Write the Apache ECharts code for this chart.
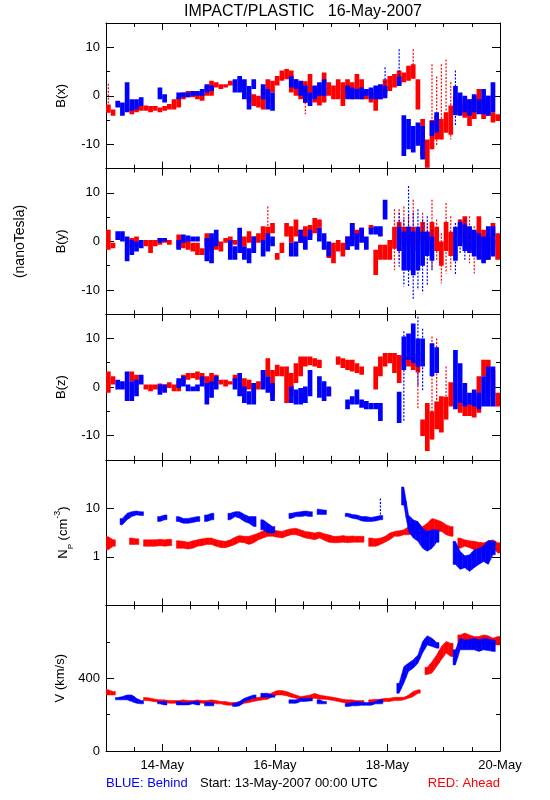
<!DOCTYPE html>
<html><head><meta charset="utf-8">
<script src="https://cdn.jsdelivr.net/npm/echarts@6/dist/echarts.min.js"></script>
<style>html,body{margin:0;padding:0;background:#fff}#c{width:550px;height:800px}</style>
</head><body><div id="c"></div>
<script>
// Each entry = one 2-hour bin starting 13-May-2007 00:00 UTC: [low, high] of the dense data,
// optionally followed by [sparseLow, sparseHigh] for scattered points; null = no data.
const hoursPerBin = 2;
const xMaxHours = 168;
const dateTickHours = [24, 72, 120, 168];
const dateTickLabels = ['14-May', '16-May', '18-May', '20-May'];
const bTickValues = [-10, 0, 10];
const npTickValues = [1, 10];
const vTickValues = [0, 400];
const vMajorTicks = [0, 400, 800];

const bxAhead = [
 [-3.5,-1.8,-3.5,2.5],[-4.1,-2.8],null,null,null,[-3.8,-2.4],[-3.4,-2.1],[-3.1,-2.1],[-3.1,-2.0],[-3.4,-2.1],[-3.1,-2.1],[-3.4,-2.4],
 [-3.1,-2.1],[-2.8,-1.7],[-2.8,-0.7],[-2.4,-0.3],[-0.7,0.7],[-0.3,1.0],[-0.3,1.0],[-0.7,0.7],[-1.0,0.7],[0,2.0],[0,3.1],[1.7,2.8],
 [1.4,2.4],[1.7,2.4],[2.1,3.1],[2.1,3.1],null,null,[-1.4,0.7],[-2.1,0.3],[-2.4,0],[-2.8,1.4],[-0.7,3.4],[0.7,3.1],
 [2.1,4.1],[3.1,5.2],[3.4,5.5],[0.7,5.2],[0,3.4],[-0.7,2.8],[-1.5,3,-3.8,3],[0,4.5],[-1.4,2],[-2,2],[-1.4,4.8],[0,2.8],
 [-0.7,2.1],[-0.7,3.4],[-2.1,2.8],[-0.3,3.4],[-0.7,2.8],[0,4.5],[-0.7,3.4],[-0.7,1.4],[-1.4,1.4],[-3.1,0.7],[-0.7,2.1],[0.7,3.4],
 [1,4.1],[1.7,4.5],[2.4,5.2],[2.8,4.8],[3.1,6.2],[3.5,6.5,3.5,9.6],[-2.8,3.4],[-12.4,-4.8],[-14.8,-9],[-11,-5,-11,6.5],[-9,-4,-10.3,4],[-9,-4.8,-9,6.5],
 [-7.6,-3.4,-7.6,7.5],[-8,-2,-9,2.8],[-3.4,0],[-3.8,-0.7],[-4.5,-1.4],[-6.2,-0.7],[-4.8,0],[-3.4,1.4],[-4.8,-0.7],[-4.1,0],[-5.5,-3.4],[-5.2,-3.8]
];
const bxBehind = [
 null,null,[-2.4,-1],[-4.1,-1.4],[-3.4,2.8],[-3.1,-0.7],[-2.8,-0.7],[-2.1,-0.3],null,null,null,[-0.7,1.7],
 [-1.4,0.3],null,null,[-0.7,0.7],[-0.3,0.7],[-0.3,0.7],[0,1.0],[0,1.0],[0,1.4],[0.7,2.4],[1.0,2.1],null,
 null,null,null,[0.7,3.4],[0.7,4.1],[-0.7,3.4],[-2.8,2],[1.4,3.4],null,[-0.7,2.4],[-2.8,1.4],[-3.1,0.7],
 null,null,null,[1.7,4.1],[1.4,3.4],[0,3.1],[-1.4,2.1],[-2.1,0.7],[-0.7,2.1],[0,2.8],[0,3.4],null,
 null,null,null,[-0.7,2.1],[-0.7,1.7],[-0.7,1.4],[-0.7,1.7],[0,1.4],[-0.7,1.7],[-0.7,2.1],[-0.7,2.4],[-0.5,2,-0.5,5.9],
 null,null,[2,4,2,9.6],[-12.4,-4],[-11,-4.8],[-11.7,-6.2],[-10.3,-5.5],[-13.1,-6.2],null,[-8.3,-5.2],[-7.6,-3.4],null,
 null,null,[-4,2,-6.2,5.2],[-4.1,0.7],[-3.4,0],[-4.1,-0.7],[-3.4,0.3],[-3.8,-0.7],[-3.8,1.4],[-4.1,0],[-3.4,2.8],null
];
const byAhead = [
 [-1.7,2.4],[-1.4,-0.3],null,null,null,[-1.4,0.7],[-1,1],null,[-1,0.3],[-2.4,0.3],[-1,0.3],[-0.7,0.7],
 [-0.3,0.7],[-0.7,0.3],null,[-1.4,1.4],[-1.4,0.7],[-1.7,0.3],[-2.1,-0.3],[-2.8,-0.3],[-2.8,-1.4],[-1,1.7],[-2.1,0.7],[-1.7,0.3],
 [-2.1,0],[-0.3,0.7],[-0.3,1],[-0.7,0.3],null,[-1,1],[-0.3,2.1],[-2.4,1],[-0.3,1.7],[0.3,3.1],[1,3,1,7.2],[1.7,3.8],
 [-3.8,-2.4],[-2.4,-0.3],[1,3.8],[-0.3,3.1],[1,4.5],[-0.3,2.4],[0.3,3.1],[1,3.4],[1.7,4.8],[2.8,4.5],null,[-3.4,-0.7],
 [-4.5,-0.3],[-2.1,0.3],[-3.1,-0.3],[-1.7,1],[0.3,3.8],[-0.3,2.4],[1,2.8],null,[2.4,3.4],[-6.9,-1.7],[-3.8,-0.7],[-3.8,-0.7],
 [-3.8,0.3],[-1.5,3,-5.9,6.6],[-1,4,-3.8,6.6],[-2,3,-5.9,7.2],[-1,3,-2.4,5.2],[-2,3,-5.9,8.6],[-2,2,-3.8,3.1],[0,4,-1,5.9],[-2,2,-3.1,3.1],[-2,4,-5.9,8.6],[-2,3,-3.8,4.5],[-5,0,-8.6,1.7],
 [-2,4,-6.6,7.9],[-3,2,-5.9,5.2],null,[-0.3,4.5],[-0.3,5.2],[-2,3,-4.5,5.2],[-3,2,-6.6,3.1],[-1,5.2],[-3.8,2.4],[-3.8,1],[-1.7,3.8],[-3.8,1.7]
];
const byBehind = [
 null,null,[0.3,2.1],[0,2.1],[-4.1,1],[-2.8,0.3],[-2.1,0],[-1.4,0.3],null,null,null,[-0.3,0.7],
 [0,0.7],null,null,[-1.7,0.3],[-0.3,1.4],[0,1.2],[0,1],[0,1],null,[-4.1,0.7],[-4.5,1.7],[-1,2.4],
 null,null,[-3.8,0.3],[-3.8,-1],[-2.4,2.8],[-3.8,-1],[-4.5,-1.4],[-2.4,1],null,[-3.1,0.3],[-2.1,1.7],[-1,1],
 null,null,null,[-3.1,-0.3],[-3.1,0],[-0.3,2.4],[-1.7,1],[0.3,2.4],null,[0,2.8],[-1.7,1.7],[-3.1,0],
 null,null,null,[-1.7,1],[-1,3.8],[-1.7,1.7],[-0.3,2.8],[-1.7,1],[1.4,2.8],[1.4,3.1],[1,3.1],[4.5,8.6],
 null,null,[-2,3,-5.2,5.9],[-6,2,-9.3,4.5],[-6,3,-9.3,11.4],[-7,2,-12,5.9],[-6,3,-10,6.6],[-5,2,-10.7,4.5],[-3,2,-9,5.2],[-4,1,-6,2.4],null,null,
 null,null,[-4,3,-6.9,3.8],[-1,4,-2.4,4.5],[-2,3.5,-3.8,4.5],[-2.4,3.1],[-3.1,2.4],[-3.8,1.7],[-4.5,1],[-3.8,3.1],[-3.1,3.1],null
];
const bzAhead = [
 [-1.2,3.2],[0.5,2.2],null,null,null,[1.2,3.2],[0.8,2.5],null,[-0.5,0.5],[-0.9,0.5],[-0.5,0.5],[-0.5,0.7],
 [-0.9,0.5],[-0.2,1],[-0.9,0.5],[-0.9,1.2],[0.8,2.5],[1.5,2.9],[1.8,2.9],[1.5,3.2],[1.2,2.9],[-0.5,2.2],[0.5,2.9],[1.5,2.5],
 [0.5,1.5],[0.1,1.5],[0.5,1.2],[1.2,2.5],null,[-0.5,1.8],[-0.5,1.5],[-1.2,0.8],[-0.5,1.2],[0.1,3.5],[2.2,5.9],[-1.9,3.5],
 [2.2,4.6],[2.2,4.2],[-3.3,4.2],[-1.9,2.9],[0.8,4.9],[2.2,6.3],[4.2,6.3],[4.5,6.3],[4.2,5.9],[3.9,5.6],null,[-1.9,-0.2],
 null,[4.6,6.3],[3.9,5.9],[3.5,5.6],[3.2,5.6],[2.9,4.9],[2.5,4.2],null,null,[-0.5,4.2],[2.2,6.3],[4.2,7],
 [4.9,7],[2.9,7],[0.8,6.6],[4.2,6.3],[4.2,6.3],[3.5,5.6],[3,7,-4.6,9],[-10.1,-6.7],[-13.2,-3.3],[-10.8,-5,-10.8,10.4],[-8.7,-3,-8.7,10],[-9.4,-1.9],
 [-6.7,-2,-6.7,4.2],[-4,1],null,[-5.3,-0.5],[-6,-2.6],[-6,-3.3],[-6.3,-1.9],[-5.3,2.2],[2.2,5.6],[1.5,5.6],[-1.9,3.5],[-4,-1.2]
];
const bzBehind = [
 null,null,[-0.5,1.5],[-0.5,1.2],[-2.9,3.2],[-2.9,1.2],[-1.9,1.5],[0.5,2.5],null,null,null,[-1.6,0.5],
 [-1.2,0.5],null,null,[-0.2,1.8],[0.1,2.2],[-0.9,0.5],[-0.9,0.1],[-0.9,0.5],[0.1,2.2],[-3.6,0.8],[-2.2,1.2],[-0.5,2.2],
 null,null,null,[-0.5,1.8],[-1.9,2.9],[-3.3,0.1],[-3.6,-0.9],[-3.6,0.8],null,[-0.5,3.5],[-1.2,2.2],[-2.9,0.8],
 null,null,null,[-3.3,0.1],[-3.6,-0.5],[-3.6,-0.2],[-3.3,0.1],[-1.9,3.5],null,[-2.2,2.2],[-2.9,1.2],[-1.9,0.1],
 null,null,null,[-4.6,-2.6],[-3.6,-1.9],[-3.6,-0.5],[-4.3,-2.6],[-4.6,-2.9],[-4.6,-3.3],[-4.6,-3.3],[-7,-3.3],null,
 null,null,[-7.4,-1],[3.5,10.4,-7,11.5],[5.6,11],[4.9,13.1],[4.2,10,0,14.5],[4.2,10,-1,12],null,[2.2,9],[2.9,8.2],null,
 null,null,[-4.6,7.6],[-3.3,4.9],[-4,0.8],[-3.6,-1.2],[-4,-0.5],[-4.6,-1.2],[-4,2.2],[-4,4.2],[-4,4.2],null
];
const npAhead = [
 [1.4,2.6],[1.65,2.25],null,null,null,[1.8,2.45],[1.8,2.35],null,[1.65,2.25],[1.65,2.25],[1.65,2.25],[1.7,2.3],
 [1.65,2.25],[1.7,2.3],null,[1.5,2.15],[1.5,2.1],[1.45,2.0],[1.5,2.15],[1.65,2.25],[1.7,2.35],[1.8,2.45],[1.8,2.45],[1.65,2.25],
 [1.55,2.15],[1.55,2.1],[1.65,2.25],[1.8,2.55],[2.0,2.75],[1.95,2.65],[1.8,2.65],[1.95,2.85],[2.25,3.1],[2.45,3.45],[2.65,3.6],[2.65,3.6],
 [2.55,3.45],[2.45,3.35],[2.65,3.6],[2.85,3.8],[2.85,3.9],[2.65,3.6],[2.45,3.35],[2.35,3.25],[2.25,3.1],[2.45,3.25],[2.2,3.0],[2.0,2.85],
 [1.95,2.65],[1.95,2.65],[2.0,2.75],[1.95,2.65],[2.0,2.7],[2.0,2.65],[2.0,2.65],null,[1.65,2.45],[1.65,2.35],[1.8,2.45],[2.0,2.65],
 [2.25,3.1],[2.65,3.35],[2.65,3.45],[2.85,3.6],[2.85,4.2],[3.1,4.95],[2.85,4.6],[2.85,4.2],[2.85,4.95],[3.6,6.2],[3.35,5.8],[3.35,5.35],
 [2.85,4.6],[2.65,4.2],null,[1.5,2.45],[1.65,2.25],[1.55,2.15],[1.4,2.1],[1.4,2.0],[1.3,1.95],[1.4,2.1],[1.55,2.25],[1.2,1.95]
];
const npBehind = [
 null,null,null,[4.6,6.2],[5.8,7.9],[6.75,8.55],[7.3,8.8],[7.1,8.5],null,null,null,[5.35,6.75],
 [5.8,7.3],null,null,[5.35,6.75],[4.9,6.2],[4.9,6.2],[5.1,6.5],[5.35,6.75],null,[5.35,7.3],[5.8,7.9],null,
 null,null,[5.8,7.9],[6.75,8.55],[6.25,8.55],[5.35,7.5],[4.9,6.75],[4.2,6.75],null,[3.6,5.8],[3.1,4.95],[3.1,4.2],
 null,null,null,[6.2,7.9],[6.75,8.3],[6.75,8.55],[7.0,8.8],[6.75,8.55],null,[7.5,9.6],[7.5,9.2],null,
 null,null,null,[6.75,7.9],[6.25,7.5],[6.0,7.3],[5.5,6.75],[5.35,6.75],[5.35,6.5],[5.5,6.75],[5.8,7.1,5.8,16],null,
 null,null,null,[11.7,27.6],[3.35,7.3],[2.45,5.8],[2.1,5.35],[1.5,3.9],[1.3,3.35],[1.5,3.6],[2.0,3.6],null,
 null,null,[0.7,2.1],[0.55,1.3],[0.6,1.05],[0.5,1.1],[0.6,1.4],[0.7,1.5],[0.8,1.7],[0.7,2.2],[1.1,2.1],null
];
const vAhead = [
 [308,336],[308,327],null,null,null,[285,300],null,null,[277,294],[275,290],[270,285],[266,281],
 [266,281],[262,277],[262,277],[262,277],[266,281],[262,277],[262,277],[266,281],[262,277],[262,277],[266,281],[259,277],
 [259,272],[253,272],[251,266],[251,266],[253,272],[262,281],[266,284],[272,290],[277,295],[281,299],[284,308],[299,321],
 [308,332],[308,332],[303,327],[295,317],[290,308],[281,299],[281,303],[284,308],[290,317],[284,308],[284,303],[281,299],
 [277,295],[272,290],[266,284],[262,281],[262,281],[259,277],[262,277],null,[262,281],[266,284],[266,284],[272,290],
 [272,290],[277,295],[277,295],[281,295],[290,308],[299,327],[317,336],null,[420,460],[428,491],[464,528],[501,574],
 [538,602],[519,592],null,[583,638],[592,648],[583,638],[574,629],[583,629],[592,638],[583,633],[583,620],[583,629]
];
const vBehind = [
 null,null,[281,294],[281,299],[281,308],[272,308],[262,290],[259,277],null,null,null,[259,272],
 [253,272],null,null,[253,272],[253,266],[253,266],[259,272],[253,272],null,[248,266],[248,266],null,
 null,null,null,[244,262],[248,272],[272,290],[281,299],[290,308],null,[295,317],[295,317],[295,308],
 null,null,null,[262,281],[262,281],[272,290],[272,290],[275,290],null,[259,281],[259,272],null,
 null,null,null,[244,262],[248,266],[248,272],[251,266],[251,266],[251,266],[259,272],[259,284],null,
 null,null,[317,372],[372,464],[437,483],[455,501],[482,528],[538,602],[583,633],[574,620],[565,596],null,
 null,null,[473,556],[556,620],[556,610],[556,613],[556,620],[547,610],[556,620],[552,615],[547,610],null
];

const RED = '#ff0000', BLUE = '#0000ff', BLACK = '#000000';
const FONT = 'Liberation Sans';

const panels = [
  {label:'B(x)', ahead:bxAhead, behind:bxBehind, kind:'b', gap:38},
  {label:'B(y)', ahead:byAhead, behind:byBehind, kind:'b', gap:38},
  {label:'B(z)', ahead:bzAhead, behind:bzBehind, kind:'b', gap:38},
  {label:'{a|N}{s|P}{a| (cm}{u|-3}{a|)}', ahead:npAhead, behind:npBehind, kind:'log', gap:28},
  {label:'V (km/s)', ahead:vAhead, behind:vBehind, kind:'v', gap:36}
];

// data item: [t0, t1, lo, hi, sparseLo, sparseHi, prevLo, prevHi, nextLo, nextHi]
function toData(arr) {
  const out = [];
  arr.forEach((r, i) => {
    if (!r) return;
    const lo = r[0], hi = r[1];
    const slo = r.length > 2 ? r[2] : lo, shi = r.length > 2 ? r[3] : hi;
    const p = arr[i - 1], n = arr[i + 1];
    out.push([i * hoursPerBin, (i + 1) * hoursPerBin, lo, hi, slo, shi,
      p ? p[0] : lo, p ? p[1] : hi, n ? n[0] : lo, n ? n[1] : hi]);
  });
  return out;
}
function makeRenderer(smooth) {
  return function (params, api) {
    const t0 = api.value(0), t1 = api.value(1), tm = (t0 + t1) / 2;
    const lo = api.value(2), hi = api.value(3), slo = api.value(4), shi = api.value(5);
    const y = v => api.coord([tm, v])[1];
    const x0 = api.coord([t0, lo])[0], x1 = api.coord([t1, lo])[0], xm = (x0 + x1) / 2;
    const yHi = y(hi), yLo = y(lo);
    const color = api.visual('color');
    const children = [];
    if (smooth) {
      const yHiL = (yHi + y(api.value(7))) / 2, yLoL = (yLo + y(api.value(6))) / 2;
      const yHiR = (yHi + y(api.value(9))) / 2, yLoR = (yLo + y(api.value(8))) / 2;
      children.push({type:'polygon', shape:{points:[
        [x0, Math.min(yHiL, yLoL - 1)], [xm, Math.min(yHi, yLo - 1.5)], [x1, Math.min(yHiR, yLoR - 1)],
        [x1, yLoR], [xm, yLo], [x0, yLoL]]}, style:{fill:color, stroke:color, lineWidth:0.5}});
    } else {
      children.push({type:'rect', shape:{x:x0, y:yHi, width:x1 - x0, height:Math.max(1.5, yLo - yHi)}, style:{fill:color}});
    }
    if (slo < lo || shi > hi) {
      children.push({type:'line', shape:{x1:xm, y1:y(shi), x2:xm, y2:y(slo)},
        style:{stroke:color, lineWidth:1.2, lineDash:[2, 1.5]}});
    }
    return {type:'group', children};
  };
}

const grids = [], xAxis = [], yAxis = [], series = [];
const tickLine = {color:BLACK, width:1};
panels.forEach((p, g) => {
  grids.push({left:106, width:394, top:23 + g*145.6, height:145.6});
  const isLast = g === panels.length - 1;
  const xi = xAxis.length;
  ['bottom','top'].forEach(pos => {
    const xb = {gridIndex:g, type:'value', min:0, max:xMaxHours, position:pos, splitLine:{show:false}};
    xAxis.push(Object.assign({}, xb, {interval:12,
      axisLine:{show:true, onZero:false, lineStyle:tickLine},
      axisTick:{show:true, inside:true, length:4, lineStyle:tickLine}, axisLabel:{show:false}}));
    xAxis.push(Object.assign({}, xb, {
      axisLine:{show:false, onZero:false},
      axisTick:{show:true, inside:true, length:7, customValues:dateTickHours, lineStyle:tickLine},
      axisLabel:(isLast && pos === 'bottom') ? {show:true, customValues:dateTickHours,
        formatter:v => dateTickLabels[dateTickHours.indexOf(v)] || '', color:BLACK, fontFamily:FONT, fontSize:13, margin:8} : {show:false}}));
  });
  const yi = yAxis.length;
  const nameStyle = {color:BLACK, fontFamily:FONT, fontSize:13,
    rich:{a:{fontSize:13, fontFamily:FONT, color:BLACK, lineHeight:22},
          s:{fontSize:8, fontFamily:FONT, color:BLACK, verticalAlign:'bottom'},
          u:{fontSize:9, fontFamily:FONT, color:BLACK, verticalAlign:'top'}}};
  const lab = {color:BLACK, fontFamily:FONT, fontSize:13, margin:6};
  ['left','right'].forEach(pos => {
    const yb = {gridIndex:g, position:pos, splitLine:{show:false}};
    if (p.kind === 'log') {
      yAxis.push(Object.assign({}, yb, {type:'log', logBase:10, min:0.1, max:100,
        axisLine:{show:true, onZero:false, lineStyle:tickLine},
        axisTick:{show:true, inside:true, length:8, lineStyle:tickLine},
        axisLabel: pos === 'left' ? Object.assign({show:true, formatter:v => {
          const r = Math.round(v*1000)/1000; return npTickValues.includes(r) ? String(r) : ''; }}, lab) : {show:false},
        name: pos === 'left' ? p.label : '', nameLocation:'middle', nameRotate:90, nameGap:p.gap, nameTextStyle:nameStyle}));
      return;
    }
    const rng = p.kind === 'b' ? {min:-15, max:15, step:5, major:bTickValues, labels:bTickValues}
                               : {min:0, max:800, step:200, major:vMajorTicks, labels:vTickValues};
    yAxis.push(Object.assign({}, yb, {type:'value', min:rng.min, max:rng.max, interval:rng.step,
      axisLine:{show:true, onZero:false, lineStyle:tickLine},
      axisTick:{show:true, inside:true, length:4, lineStyle:tickLine}, axisLabel:{show:false}}));
    yAxis.push(Object.assign({}, yb, {type:'value', min:rng.min, max:rng.max,
      axisLine:{show:false, onZero:false},
      axisTick:{show:true, inside:true, length:8, customValues:rng.major, lineStyle:tickLine},
      axisLabel: pos === 'left' ? Object.assign({show:true, customValues:rng.labels, formatter:v => String(v)}, lab) : {show:false},
      name: pos === 'left' ? p.label : '', nameLocation:'middle', nameRotate:90, nameGap:p.gap, nameTextStyle:nameStyle}));
  });
  const renderItem = makeRenderer(p.kind !== 'b');
  [['Ahead', p.ahead, RED], ['Behind', p.behind, BLUE]].forEach(([nm, arr, col]) => {
    series.push({type:'custom', name:nm, xAxisIndex:xi, yAxisIndex:yi, data:toData(arr), renderItem,
      itemStyle:{color:col}, encode:{x:[0,1], y:[2,3,4,5]}, silent:true, clip:true, animation:false});
  });
});

const chart = echarts.init(document.getElementById('c'), null, {renderer:'canvas'});
chart.setOption({
  animation:false,
  backgroundColor:'#ffffff',
  grid:grids.map(gr => Object.assign({outerBoundsMode:'none', containLabel:false}, gr)),
  xAxis, yAxis, series,
  graphic:[
    {type:'text', x:303, y:12, style:{text:'IMPACT/PLASTIC   16-May-2007', fontFamily:FONT, fontSize:16, fill:BLACK, align:'center', verticalAlign:'middle'}},
    {type:'text', x:20, y:241.5, rotation:Math.PI/2, style:{text:'(nanoTesla)', fontFamily:FONT, fontSize:14, fill:BLACK, align:'center', verticalAlign:'middle'}},
    {type:'text', x:106, y:783, style:{text:'BLUE: Behind', fontFamily:FONT, fontSize:13, fill:BLUE, align:'left', verticalAlign:'middle'}},
    {type:'text', x:200, y:783, style:{text:'Start: 13-May-2007 00:00 UTC', fontFamily:FONT, fontSize:13, fill:BLACK, align:'left', verticalAlign:'middle'}},
    {type:'text', x:500, y:783, style:{text:'RED: Ahead', fontFamily:FONT, fontSize:13, fill:RED, align:'right', verticalAlign:'middle'}}
  ]
});
</script>
</body></html>
